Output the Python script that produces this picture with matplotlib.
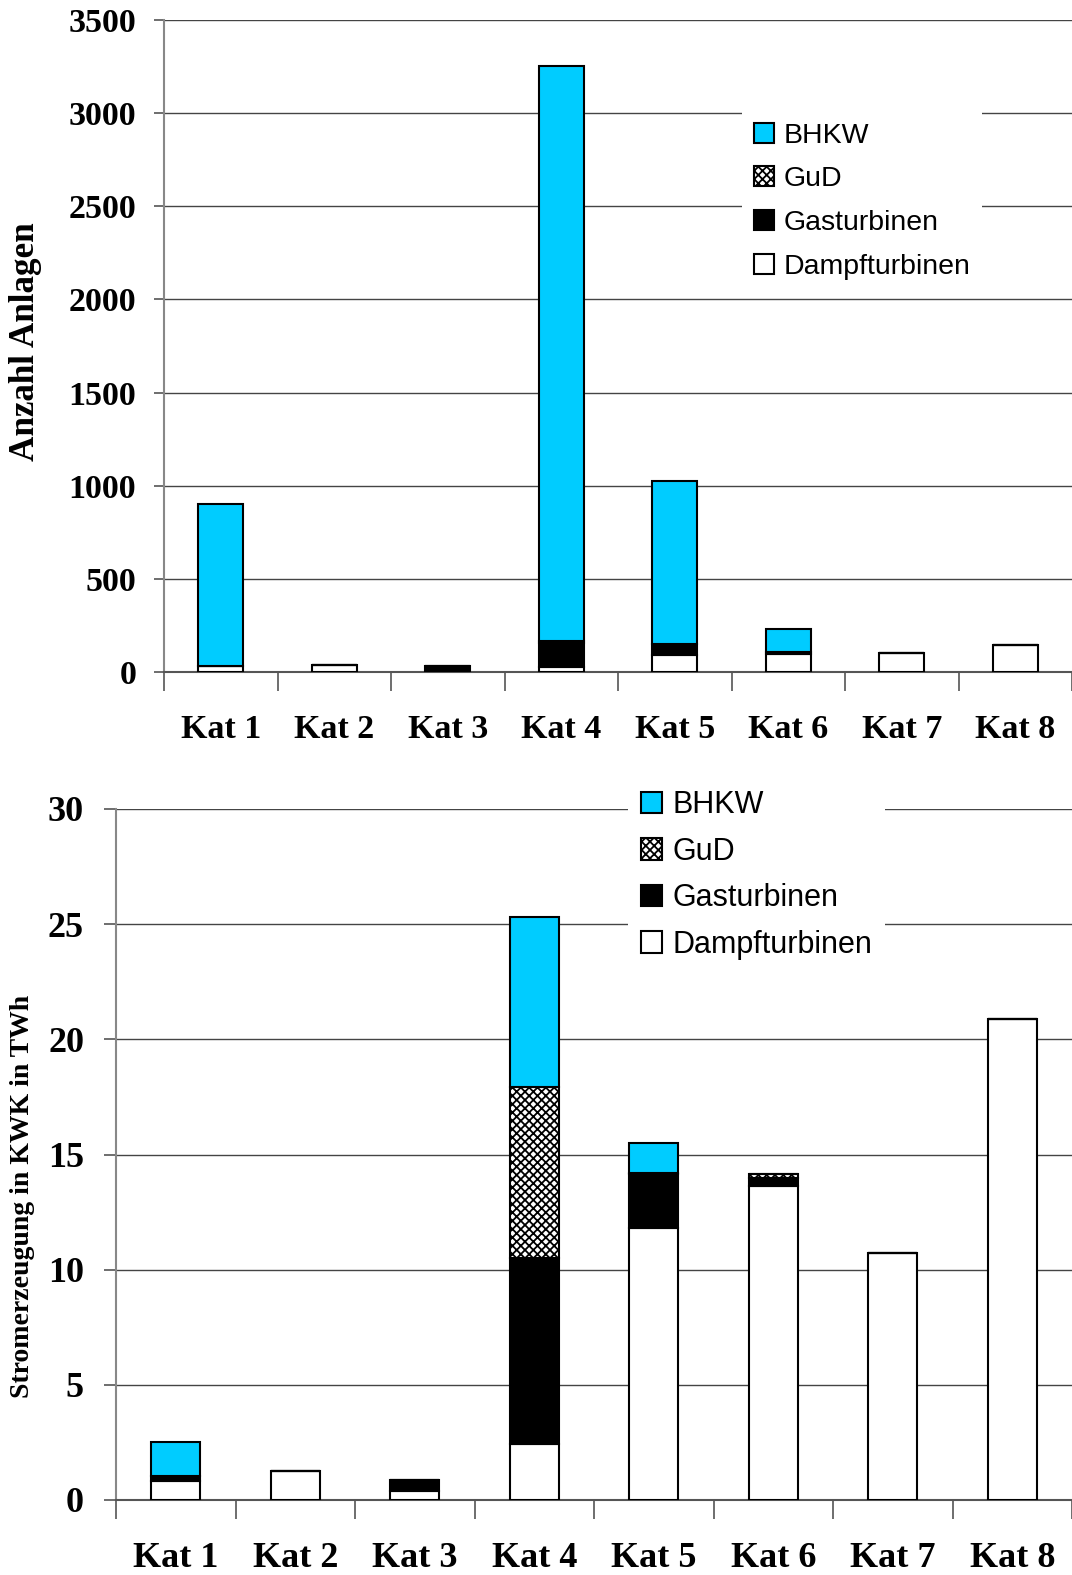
import matplotlib
matplotlib.use("Agg")
import matplotlib.pyplot as plt
import numpy as np

categories = ["Kat 1", "Kat 2", "Kat 3", "Kat 4", "Kat 5", "Kat 6", "Kat 7", "Kat 8"]
series_names = ["Dampfturbinen", "Gasturbinen", "GuD", "BHKW"]

# Top chart: Anzahl Anlagen
anz_dampf = [30, 40, 0, 25, 90, 95, 100, 145]
anz_gas = [0, 0, 30, 130, 60, 10, 0, 0]
anz_gud = [0, 0, 0, 10, 0, 0, 0, 0]
anz_bhkw = [870, 0, 0, 3090, 875, 125, 0, 0]

# Bottom chart: Stromerzeugung in KWK in TWh
twh_dampf = [0.82, 1.26, 0.39, 2.43, 11.8, 13.65, 10.72, 20.88]
twh_gas = [0.23, 0, 0.47, 8.07, 2.35, 0.35, 0, 0]
twh_gud = [0, 0, 0, 7.43, 0.05, 0.15, 0, 0]
twh_bhkw = [1.48, 0, 0, 7.36, 1.3, 0, 0, 0]

top_ticks = [0, 500, 1000, 1500, 2000, 2500, 3000, 3500]
bot_ticks = [0, 5, 10, 15, 20, 25, 30]

CYAN = "#00CCFF"
plt.rcParams["hatch.linewidth"] = 1.3
styles = {
    "Dampfturbinen": dict(facecolor="white", hatch=None),
    "Gasturbinen": dict(facecolor="black", hatch=None),
    "GuD": dict(facecolor="white", hatch="xxxx"),
    "BHKW": dict(facecolor=CYAN, hatch=None),
}

fig = plt.figure(figsize=(10.72, 15.75), dpi=100)
W, H = 1072, 1575

def make_ax(left, top, right, bottom):
    return fig.add_axes([left / W, 1 - bottom / H, (right - left) / W, (bottom - top) / H])

serif = "Liberation Serif"
sans = "Liberation Sans"

def draw(ax, data, ticks, ymax, width, tick_fs, ytick_len, ypad, ylabel, ylabel_fs,
         leg_fs, leg_anchor, labelspacing, xpad):
    x = np.arange(len(categories))
    bottom = np.zeros(len(categories))
    handles = {}
    for name, vals in data:
        vals = np.array(vals, dtype=float)
        st = styles[name]
        b = ax.bar(x, vals, width, bottom=bottom, facecolor=st["facecolor"], edgecolor="black",
                   linewidth=1.5, hatch=st["hatch"], zorder=3)
        handles[name] = b
        bottom += vals
    ax.set_xlim(-0.5, len(categories) - 0.5)
    ax.set_ylim(0, ymax)
    ax.set_yticks(ticks)
    ax.set_yticklabels([str(t) for t in ticks], fontfamily=serif, fontweight="bold", fontsize=tick_fs)
    ax.set_xticks(x)
    ax.set_xticklabels(categories, fontfamily=serif, fontweight="bold", fontsize=tick_fs)
    ax.tick_params(axis="x", which="major", length=0, pad=xpad)
    ax.set_xticks(np.arange(len(categories) + 1) - 0.5, minor=True)
    ax.tick_params(axis="x", which="minor", length=14, width=1.2, color="#555555", direction="out")
    ax.tick_params(axis="y", length=ytick_len, width=1.2, color="#555555", direction="out", pad=ypad)
    for s in ["top", "right"]:
        ax.spines[s].set_visible(False)
    ax.spines["left"].set_color("#888888")
    ax.spines["left"].set_linewidth(1.5)
    ax.spines["bottom"].set_color("#555555")
    ax.spines["bottom"].set_linewidth(1.5)
    ax.yaxis.grid(True, color="#444444", linewidth=1.0, zorder=0)
    ax.set_axisbelow(True)
    ax.set_ylabel(ylabel, fontfamily=serif, fontweight="bold", fontsize=ylabel_fs)
    order = ["BHKW", "GuD", "Gasturbinen", "Dampfturbinen"]
    leg = ax.legend([handles[n] for n in order], order, loc="upper left", bbox_to_anchor=leg_anchor,
                    prop={"family": sans, "size": leg_fs}, frameon=True, fancybox=False,
                    framealpha=1, edgecolor="none", facecolor="white", handlelength=0.7,
                    handleheight=0.7, handletextpad=0.35, labelspacing=labelspacing,
                    borderpad=0.4, borderaxespad=0)
    leg.set_zorder(10)
    return ax

ax1 = make_ax(164, 20, 1072, 672)
draw(ax1,
     [("Dampfturbinen", anz_dampf), ("Gasturbinen", anz_gas), ("GuD", anz_gud), ("BHKW", anz_bhkw)],
     top_ticks, 3500, 0.40, 24.5, 7, 13, "Anzahl Anlagen", 25.3, 20.5, (0.637, 0.860), 0.62, 30)
ax1.yaxis.set_label_coords(-0.134, 0.507)

ax2 = make_ax(116, 809, 1072, 1500)
draw(ax2,
     [("Dampfturbinen", twh_dampf), ("Gasturbinen", twh_gas), ("GuD", twh_gud), ("BHKW", twh_bhkw)],
     bot_ticks, 30, 0.41, 26, 9, 14, "Stromerzeugung in KWK in TWh", 20, 22, (0.536, 1.045), 0.54, 30)
ax2.yaxis.set_label_coords(-0.085, 0.44)

fig.savefig("out.png", dpi=100)
